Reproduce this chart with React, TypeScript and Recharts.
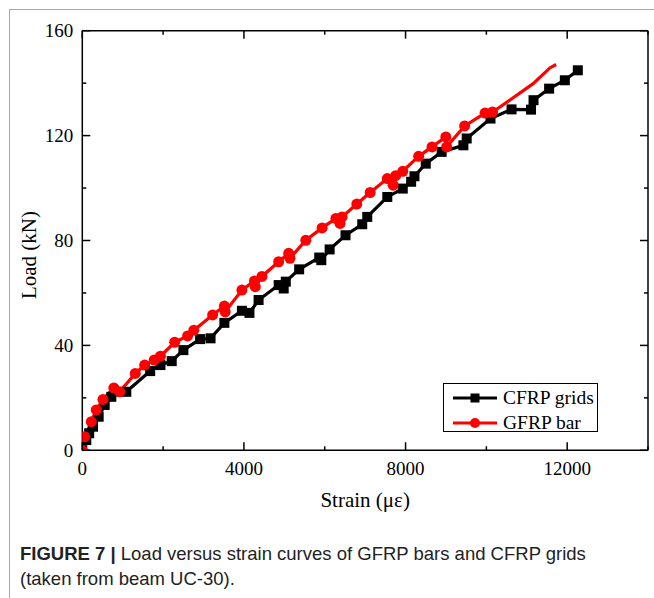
import React from 'react';
import { LineChart, Line, XAxis, YAxis, Legend } from 'recharts';

// CFRP grids: strain (με) vs load (kN)
const cfrpStrain = [
  0, 99, 170, 265, 405, 554, 718, 1089, 1680, 1934, 2213, 2502, 2916, 3174, 3516,
  3950, 4136, 4363, 4860, 4984, 5036, 5367, 5863, 5915, 6121, 6514, 6928, 7052,
  7548, 7931, 8138, 8220, 8500, 8893, 9431, 9513, 10102, 10623, 11105, 11167,
  11553, 11942, 12263,
];
const cfrpLoad = [
  0, 3.9, 6.5, 9.0, 12.8, 17.3, 20.4, 22.3, 30.2, 32.5, 34.0, 38.2, 42.4, 42.7, 48.6,
  53.2, 52.4, 57.3, 63.0, 61.7, 64.3, 69.0, 73.5, 72.5, 76.6, 82.0, 86.2, 89.0,
  96.6, 99.8, 102.4, 104.5, 109.3, 113.8, 116.3, 118.9, 126.5, 130.0, 129.9, 133.5,
  137.9, 141.1, 144.9,
];

// GFRP bar: strain (με) vs load (kN)
const gfrpStrain = [
  0, 59, 223, 346, 512, 780, 925, 1311, 1543, 1779, 1934, 2286, 2606, 2761, 3226,
  3516, 3536, 3950, 4260, 4281, 4446, 4860, 5108, 5139, 5532, 5935, 6276, 6379,
  6431, 6793, 7124, 7548, 7693, 7755, 7931, 8324, 8655, 8996, 9017, 9462, 9968,
  10154, 10335, 11158, 11571, 11726,
];
const gfrpLoad = [
  0, 5.2, 10.9, 15.4, 19.4, 23.8, 22.3, 29.3, 32.5, 34.4, 35.9, 41.2, 43.6, 45.8, 51.6,
  55.0, 52.8, 61.1, 64.6, 62.4, 66.3, 71.9, 75.1, 73.2, 80.1, 84.8, 88.4, 86.5,
  89.0, 93.9, 98.3, 103.6, 101.1, 104.7, 106.4, 112.1, 115.7, 119.5, 115.7, 123.7, 128.6,
  129.0, 130.9, 139.8, 145.8, 147.1,
];
// last few GFRP points are drawn without markers
const gfrpUnmarkedTail = 4;

const xTicks = [0, 2000, 4000, 6000, 8000, 10000, 12000, 14000];
const xLabelTicks = [0, 4000, 8000, 12000];
const yTicks = [0, 20, 40, 60, 80, 100, 120, 140, 160];
const yLabelTicks = [0, 40, 80, 120, 160];

const cfrpData = cfrpStrain.map((s, i) => ({ strain: s, load: cfrpLoad[i], mk: true }));
const gfrpData = gfrpStrain.map((s, i) => ({
  strain: s,
  load: gfrpLoad[i],
  mk: i < gfrpStrain.length - gfrpUnmarkedTail,
}));

const SERIF = '"Liberation Serif", "Times New Roman", serif';
const SANS = '"Liberation Sans", Arial, sans-serif';

function BottomTick({ x, y, payload }: any) {
  const major = xLabelTicks.includes(payload.value);
  return (
    <g>
      <line x1={x} y1={y} x2={x} y2={y - (major ? 8 : 4)} stroke="#000" strokeWidth={1.5} />
      {major && (
        <text x={x} y={y + 25} textAnchor="middle" fontSize={19} fontFamily={SERIF} fill="#000">
          {payload.value}
        </text>
      )}
    </g>
  );
}

function TopTick({ x, y, payload }: any) {
  const major = xLabelTicks.includes(payload.value);
  return <line x1={x} y1={y} x2={x} y2={y + (major ? 8 : 4)} stroke="#000" strokeWidth={1.5} />;
}

function LeftTick({ x, y, payload }: any) {
  const major = yLabelTicks.includes(payload.value);
  return (
    <g>
      <line x1={x} y1={y} x2={x + (major ? 8 : 4)} y2={y} stroke="#000" strokeWidth={1.5} />
      {major && (
        <text x={x - 9} y={y + 6.5} textAnchor="end" fontSize={19} fontFamily={SERIF} fill="#000">
          {payload.value}
        </text>
      )}
    </g>
  );
}

function RightTick({ x, y, payload }: any) {
  const major = yLabelTicks.includes(payload.value);
  return <line x1={x} y1={y} x2={x - (major ? 8 : 4)} y2={y} stroke="#000" strokeWidth={1.5} />;
}

function squareDot(props: any) {
  const { cx, cy, index } = props;
  return <rect key={`sq-${index}`} x={cx - 5} y={cy - 5} width={10} height={10} fill="#000" />;
}

function circleDot(props: any) {
  const { cx, cy, index, payload } = props;
  if (!payload.mk) return <g key={`ci-${index}`} />;
  return <circle key={`ci-${index}`} cx={cx} cy={cy} r={5.5} fill="#ff0000" />;
}

function LegendBox() {
  const rows = [
    { name: 'CFRP grids', color: '#000', shape: 'square' },
    { name: 'GFRP bar', color: '#ff0000', shape: 'circle' },
  ];
  return (
    <div
      style={{
        width: 155,
        height: 49,
        border: '1px solid #000',
        background: '#fff',
        boxSizing: 'border-box',
        position: 'relative',
      }}
    >
      {rows.map((r, i) => (
        <div
          key={r.name}
          style={{ position: 'absolute', left: 8, top: 2 + i * 25, height: 24, display: 'flex', alignItems: 'center' }}
        >
          <svg width={46} height={24}>
            <line x1={1} y1={12} x2={45} y2={12} stroke={r.color} strokeWidth={3} />
            {r.shape === 'square' ? (
              <rect x={18.5} y={7.5} width={9} height={9} fill={r.color} />
            ) : (
              <circle cx={23} cy={12} r={5} fill={r.color} />
            )}
          </svg>
          <span style={{ fontFamily: SERIF, fontSize: 19.5, color: '#000', marginLeft: 5, whiteSpace: 'nowrap' }}>
            {r.name}
          </span>
        </div>
      ))}
    </div>
  );
}

export default function App() {
  return (
    <div
      style={{
        position: 'absolute',
        left: 0,
        top: 0,
        width: 654,
        height: 598,
        overflow: 'hidden',
        background: '#fff',
      }}
    >
      <div
        style={{
          position: 'absolute',
          left: 9,
          top: 9,
          width: 700,
          height: 640,
          border: '1px solid #a8a8a8',
        }}
      />
      <div style={{ position: 'absolute', left: 0, top: 0 }}>
        <LineChart width={654} height={520} margin={{ top: 0, right: 0, bottom: 0, left: 0 }}>
          <XAxis
            xAxisId="b"
            type="number"
            dataKey="strain"
            domain={[0, 14000]}
            ticks={xTicks}
            interval={0}
            allowDataOverflow
            height={69.7}
            tickSize={0}
            tickMargin={0}
            tickLine={false}
            tick={<BottomTick />}
            axisLine={{ stroke: '#000', strokeWidth: 1.5 }}
            label={{
              value: 'Strain (με)',
              position: 'insideBottom',
              offset: 13,
              style: { fontFamily: SERIF, fontSize: 21, fill: '#000' },
            }}
          />
          <XAxis
            xAxisId="t"
            orientation="top"
            type="number"
            dataKey="strain"
            domain={[0, 14000]}
            ticks={xTicks}
            interval={0}
            allowDataOverflow
            height={30.7}
            tickSize={0}
            tickMargin={0}
            tickLine={false}
            tick={<TopTick />}
            axisLine={{ stroke: '#000', strokeWidth: 1.5 }}
          />
          <YAxis
            yAxisId="l"
            type="number"
            domain={[0, 160]}
            ticks={yTicks}
            interval={0}
            allowDataOverflow
            width={82.3}
            tickSize={0}
            tickMargin={0}
            tickLine={false}
            tick={<LeftTick />}
            axisLine={{ stroke: '#000', strokeWidth: 1.5 }}
            label={(p: any) => (
              <text
                x={29}
                y={255}
                transform="rotate(-90 29 255)"
                textAnchor="middle"
                dominantBaseline="central"
                fontFamily={SERIF}
                fontSize={21}
                fill="#000"
              >
                Load (kN)
              </text>
            )}
          />
          <YAxis
            yAxisId="r"
            orientation="right"
            type="number"
            domain={[0, 160]}
            ticks={yTicks}
            interval={0}
            allowDataOverflow
            width={6}
            tickSize={0}
            tickMargin={0}
            tickLine={false}
            tick={<RightTick />}
            axisLine={{ stroke: '#000', strokeWidth: 1.5 }}
          />
          <Legend
            layout="horizontal"
            verticalAlign="middle"
            align="center"
            content={() => <LegendBox />}
            wrapperStyle={{ position: 'absolute', left: 443, top: 383, width: 155, height: 49 }}
          />
          <Line
            xAxisId="b"
            yAxisId="l"
            data={cfrpData}
            dataKey="load"
            name="CFRP grids"
            type="linear"
            stroke="#000"
            strokeWidth={3.2}
            dot={squareDot}
            activeDot={false}
            isAnimationActive={false}
          />
          <Line
            xAxisId="b"
            yAxisId="l"
            data={gfrpData}
            dataKey="load"
            name="GFRP bar"
            type="linear"
            stroke="#ff0000"
            strokeWidth={3.2}
            dot={circleDot}
            activeDot={false}
            isAnimationActive={false}
          />
        </LineChart>
      </div>
      <div
        style={{
          position: 'absolute',
          left: 20,
          top: 541,
          width: 634,
          fontFamily: SANS,
          fontSize: 18.5,
          lineHeight: '25px',
          color: '#222',
          whiteSpace: 'nowrap',
        }}
      >
        <b>FIGURE 7 |</b> Load versus strain curves of GFRP bars and CFRP grids
        <br />
        (taken from beam UC-30).
      </div>
    </div>
  );
}
